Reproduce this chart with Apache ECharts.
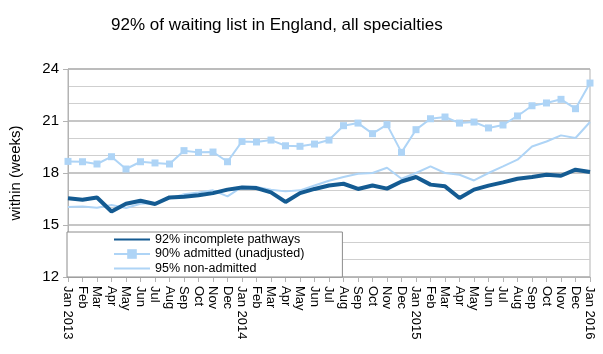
<!DOCTYPE html>
<html>
<head>
<meta charset="utf-8">
<script src="https://cdn.jsdelivr.net/npm/echarts@6/dist/echarts.min.js"></script>
<style>
  html, body { margin: 0; padding: 0; background: #fff; }
  #chart { width: 603px; height: 354px; }
</style>
</head>
<body>
<div id="chart"></div>
<script>
// months Jan 2013 .. Jan 2016
var months = [
  "Jan 2013", "Feb", "Mar", "Apr", "May", "Jun", "Jul", "Aug", "Sep", "Oct", "Nov", "Dec",
  "Jan 2014", "Feb", "Mar", "Apr", "May", "Jun", "Jul", "Aug", "Sep", "Oct", "Nov", "Dec",
  "Jan 2015", "Feb", "Mar", "Apr", "May", "Jun", "Jul", "Aug", "Sep", "Oct", "Nov", "Dec",
  "Jan 2016"
];

// 92% incomplete pathways
var incomplete92 = [
  16.54, 16.46, 16.59, 15.78, 16.23, 16.40, 16.21, 16.59, 16.63, 16.72, 16.84, 17.04,
  17.16, 17.13, 16.88, 16.33, 16.84, 17.08, 17.28, 17.38, 17.08, 17.28, 17.10, 17.51,
  17.77, 17.33, 17.23, 16.56, 17.04, 17.27, 17.46, 17.67, 17.77, 17.90, 17.84, 18.19,
  18.06
];

// 90% admitted (unadjusted)
var admitted90 = [
  18.67, 18.65, 18.52, 18.94, 18.23, 18.65, 18.58, 18.52, 19.29, 19.19, 19.21, 18.65,
  19.82, 19.79, 19.90, 19.57, 19.54, 19.67, 19.90, 20.73, 20.88, 20.27, 20.79, 19.19,
  20.50, 21.13, 21.23, 20.88, 20.94, 20.60, 20.77, 21.29, 21.88, 22.04, 22.25, 21.71,
  23.19
];

// 95% non-admitted
var nonAdmitted95 = [
  16.04, 16.07, 16.00, 16.15, 15.98, 16.23, 16.27, 16.52, 16.77, 16.88, 17.00, 16.65,
  17.20, 17.20, 17.04, 16.94, 17.00, 17.28, 17.55, 17.77, 17.96, 18.00, 18.30, 17.67,
  18.00, 18.38, 18.00, 17.90, 17.57, 18.00, 18.38, 18.77, 19.53, 19.82, 20.17, 20.02,
  20.94
];

var yTicks = [12, 15, 18, 21, 24];

var myChart = echarts.init(document.getElementById("chart"));

var font = "'Liberation Sans', Arial, sans-serif";
var darkBlue = "#145b92";
var lightBlue = "#aed4f6";

var option = {
  animation: false,
  title: {
    text: "92% of waiting list in England, all specialties",
    left: 106,
    top: 12,
    textStyle: { fontFamily: font, fontSize: 17, fontWeight: "normal", color: "#000" },
  },
  grid: {
    left: 67,
    right: 13,
    top: 69,
    bottom: 77,
    show: true,
    borderColor: "#b3b3b3",
    borderWidth: 1,
  },
  legend: {
    orient: "vertical",
    left: 67,
    top: 232,
    // 线系列没有标记点时，图例里的圆点隐藏掉
    data: [
      { name: "92% incomplete pathways", itemStyle: { opacity: 0 } },
      { name: "90% admitted (unadjusted)" },
      { name: "95% non-admitted", itemStyle: { opacity: 0 } },
    ],
    backgroundColor: "#fff",
    borderColor: "#8c8c8c",
    borderWidth: 1,
    padding: [1, 38, 2, 46],
    itemWidth: 36,
    itemHeight: 12,
    itemGap: 1.5,
    textStyle: { fontFamily: font, fontSize: 12.5, color: "#000", lineHeight: 12 },
  },
  xAxis: {
    type: "category",
    data: months,
    boundaryGap: false,
    axisLine: { lineStyle: { color: "#b3b3b3" } },
    axisTick: { show: true, inside: false, length: 5, lineStyle: { color: "#b3b3b3" }, alignWithLabel: true },
    axisLabel: {
      interval: 0,
      rotate: -90,
      margin: 9,
      fontFamily: font,
      fontSize: 13,
      color: "#000",
    },
    splitLine: { show: false },
  },
  yAxis: {
    type: "value",
    name: "within (weeks)",
    nameLocation: "middle",
    nameGap: 45,
    nameTextStyle: { fontFamily: font, fontSize: 15, color: "#000" },
    min: yTicks[0],
    max: yTicks[yTicks.length - 1],
    interval: 3,
    axisLine: { show: true, lineStyle: { color: "#b3b3b3" } },
    axisTick: { show: true, length: 5, lineStyle: { color: "#b3b3b3" } },
    axisLabel: { margin: 9, fontFamily: font, fontSize: 15, color: "#000" },
    splitLine: { show: true, lineStyle: { color: "#b3b3b3", width: 1.5 } },
    minorTick: { show: false, splitNumber: 3 },
    minorSplitLine: { show: true, lineStyle: { color: "#cfcfcf", width: 1 } },
  },
  series: [
    {
      name: "95% non-admitted",
      type: "line",
      data: nonAdmitted95,
      symbol: "none",
      lineStyle: { color: lightBlue, width: 2 },
      itemStyle: { color: lightBlue },
      z: 2,
    },
    {
      name: "90% admitted (unadjusted)",
      type: "line",
      data: admitted90,
      symbol: "rect",
      symbolSize: 7,
      lineStyle: { color: lightBlue, width: 2 },
      itemStyle: { color: lightBlue },
      z: 3,
    },
    {
      name: "92% incomplete pathways",
      type: "line",
      data: incomplete92,
      symbol: "none",
      lineStyle: { color: darkBlue, width: 4 },
      itemStyle: { color: darkBlue },
      z: 4,
    },
  ],
};

option && myChart.setOption(option);
</script>
</body>
</html>
